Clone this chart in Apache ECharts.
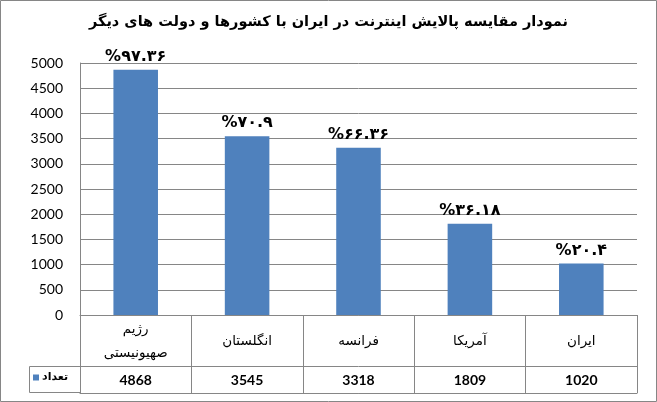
<!DOCTYPE html>
<html>
<head>
<meta charset="utf-8">
<script src="https://cdn.jsdelivr.net/npm/echarts@6/dist/echarts.min.js"></script>
<style>
html,body{margin:0;padding:0;background:#fff;}
#c{width:657px;height:402px;}
</style>
</head>
<body>
<div id="c"></div>
<script>
const titleText = 'نمودار مقایسه پالایش اینترنت در ایران با کشورها و دولت های دیگر';
const categories = ['رژیم\nصهیونیستی', 'انگلستان', 'فرانسه', 'آمریکا', 'ایران'];
const values = [4868, 3545, 3318, 1809, 1020];
const percentLabels = ['%۹۷.۳۶', '%۷۰.۹', '%۶۶.۳۶', '%۳۶.۱۸', '%۲۰.۴'];
const seriesName = 'تعداد';
const yTicks = {min: 0, max: 5000, interval: 500};

const lineColor = '#868686';
const persianFont = '"DejaVu Sans", sans-serif';

const chart = echarts.init(document.getElementById('c'));
chart.setOption({
  animation: false,
  backgroundColor: '#fff',
  title: {
    text: titleText,
    left: 'center',
    top: 10,
    textStyle: {fontFamily: persianFont, fontWeight: 'bold', fontSize: 14.5, color: '#000'}
  },
  legend: {
    data: [{name: seriesName, icon: 'rect'}],
    left: 33,
    top: 372,
    itemWidth: 6,
    itemHeight: 6,
    itemGap: 4,
    padding: 0,
    textStyle: {fontFamily: persianFont, fontWeight: 'bold', fontSize: 11, color: '#000', padding: [0, 0, 0, -2]}
  },
  grid: [
    {left: 80, right: 20, top: 63, height: 252},
    {left: 80, right: 20, top: 366, height: 27}
  ],
  xAxis: [
    {
      type: 'category', gridIndex: 0, data: categories,
      axisLine: {show: true, lineStyle: {color: lineColor}},
      axisTick: {show: true, length: 51, interval: 0, lineStyle: {color: lineColor}},
      axisLabel: {
        interval: 0, margin: 26, verticalAlign: 'middle', lineHeight: 24,
        fontFamily: persianFont, fontSize: 13.5, color: '#000'
      }
    },
    {
      type: 'category', gridIndex: 1, data: categories,
      axisLine: {show: true, lineStyle: {color: lineColor}},
      axisTick: {show: true, inside: true, length: 27, interval: 0, lineStyle: {color: lineColor}},
      axisLabel: {
        inside: true, interval: 0, margin: 13, verticalAlign: 'middle',
        fontFamily: 'Lato, sans-serif', fontWeight: 'bold', fontSize: 14, color: '#000',
        formatter: function (v, i) { return String(values[i]); }
      }
    }
  ],
  yAxis: [
    {
      type: 'value', gridIndex: 0, min: yTicks.min, max: yTicks.max, interval: yTicks.interval,
      axisLine: {show: true, lineStyle: {color: lineColor}},
      axisTick: {show: false},
      splitLine: {show: true, lineStyle: {color: lineColor}},
      axisLabel: {margin: 17, fontFamily: 'Lato, sans-serif', fontSize: 14, color: '#000',
        formatter: function (v) { return String(v); }}
    },
    {
      type: 'value', gridIndex: 1, min: 0, max: 1, interval: 1,
      axisLine: {show: false}, axisTick: {show: false}, axisLabel: {show: false},
      splitLine: {show: true, lineStyle: {color: lineColor}}
    }
  ],
  series: [{
    name: seriesName,
    type: 'bar',
    xAxisIndex: 0, yAxisIndex: 0,
    data: values,
    barWidth: '40%',
    itemStyle: {color: '#4F81BD'},
    label: {
      show: true, position: 'top', distance: 5,
      fontFamily: persianFont, fontWeight: 'bold', fontSize: 16, color: '#000',
      formatter: function (p) { return percentLabels[p.dataIndex]; }
    }
  }],
  graphic: [
    {type: 'rect', silent: true, z: 100,
     shape: {x: 29.5, y: 366.5, width: 51, height: 26},
     style: {fill: 'none', stroke: lineColor, lineWidth: 1}},
    {type: 'rect', silent: true, z: 100,
     shape: {x: 0.5, y: 0.5, width: 656, height: 401},
     style: {fill: 'none', stroke: lineColor, lineWidth: 1}}
  ]
});
</script>
</body>
</html>
